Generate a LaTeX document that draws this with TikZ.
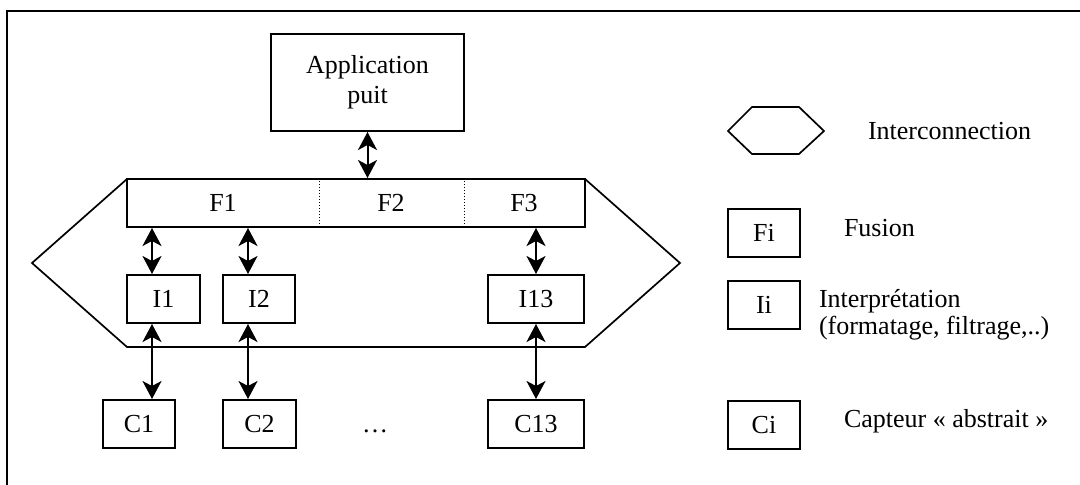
\documentclass[tikz,border=0pt]{standalone}
\usepackage{fontspec}
\setmainfont{Liberation Serif}
\usetikzlibrary{arrows.meta}
\tikzset{
	box/.style={draw, line width=2pt, minimum height=48, inner sep=0pt},
	biarrow/.style={{Stealth[length=18pt,width=19pt,inset=5pt]}-{Stealth[length=18pt,width=19pt,inset=5pt]}, line width=2pt},
	legend/.style={anchor=west, inner sep=0pt},
}
\begin{document}
\begin{tikzpicture}[x=1pt, y=-1pt, font=\fontsize{26}{27}\selectfont, line width=2pt]
		\useasboundingbox (0,0) rectangle (1080,485);
		\draw (7,11) rectangle (1100,500);
		% interconnection
		\draw[line width=1.7pt] (127,179) -- (585,179) -- (680,263) -- (585,347) -- (127,347) -- (32,263) -- cycle;
		\node[box, minimum width=193, minimum height=97, align=center, font=\fontsize{26}{30}\selectfont] (app) at (367.5,82.5) {Application\\puit};
		\node[box, minimum width=458] (fus) at (356,203) {};
		\draw[dotted, line width=1pt] (319,0 |- fus.north) -- (319,0 |- fus.south);
		\draw[dotted, line width=1pt] (464,0 |- fus.north) -- (464,0 |- fus.south);
		\node (f1) at (223,203) {F1};
		\node (f2) at (391,203) {F2};
		\node (f3) at (524,203) {F3};
		\node[box, minimum width=73] (i1) at (163.5,299) {I1};
		\node[box, minimum width=72] (i2) at (259,299) {I2};
		\node[box, minimum width=96] (i13) at (536,299) {I13};
		\node[box, minimum width=72] (c1) at (139,424) {C1};
		\node[box, minimum width=73] (c2) at (259.5,424) {C2};
		\node[box, minimum width=96] (c13) at (536,424) {C13};
		\node[anchor=base] (dots) at (375,432) {…};
		\draw[biarrow] (app.south) -- (app.south |- fus.north);
		\foreach \x/\n in {152/1,248/2,536/13}{
			\draw[biarrow] (\x,0 |- fus.south) -- (\x,0 |- i\n.north);
			\draw[biarrow] (\x,0 |- i\n.south) -- (\x,0 |- c\n.north);
		}
		% legend
		\draw[line width=1.7pt] (728,131) -- (752,107) -- (799,107) -- (824,131) -- (799,154) -- (752,154) -- cycle;
		\node[legend] (tinter) at (867,131) {Interconnection};
		\node[box, minimum width=72] (lfus) at (764,233) {Fi};
		\node[legend] (tfus) at (843,228) {Fusion};
		\node[box, minimum width=72] (lint) at (764,304.5) {Ii};
		\node[legend, align=left] (tint) at (818,315) {Interprétation\\(formatage, filtrage,..)};
		\node[box, minimum width=72] (lcap) at (764,425) {Ci};
		\node[legend] (tcap) at (843,421) {Capteur « abstrait »};
	%
	\end{tikzpicture}
\end{document}
